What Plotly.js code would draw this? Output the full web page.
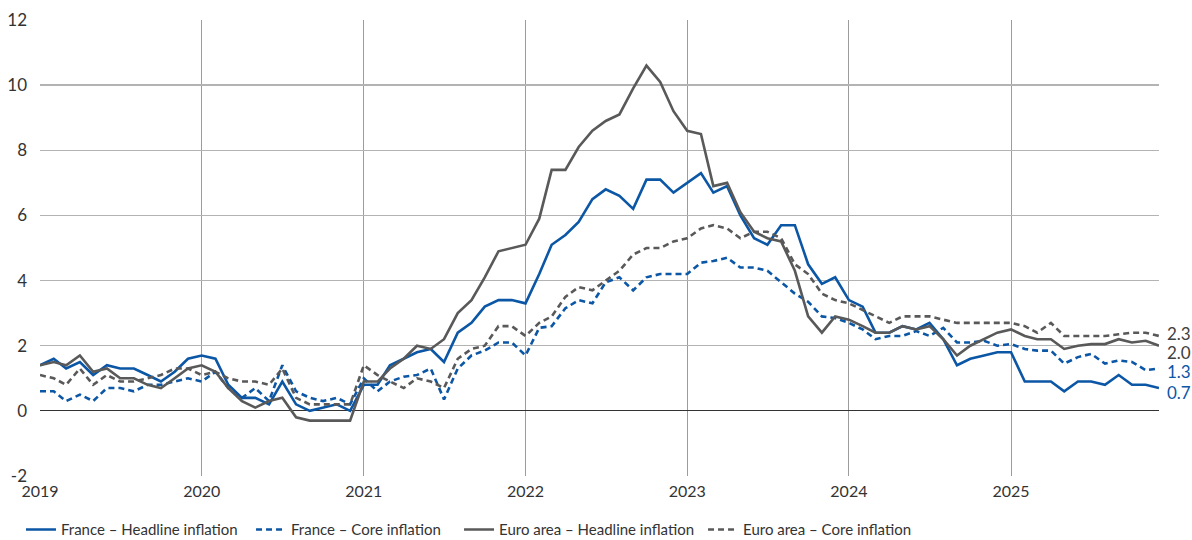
<!DOCTYPE html>
<html>
<head>
<meta charset="utf-8">
<script src="https://cdn.plot.ly/plotly-3.0.1.min.js"></script>
<style>html,body{margin:0;padding:0;background:#fff;}#chart{width:1192px;height:540px;}</style>
</head>
<body>
<div id="chart"></div>
<script>
// Monthly data, Jan 2019 - Dec 2025 (year-on-year %, HICP)
var years = [2019, 2020, 2021, 2022, 2023, 2024, 2025];
var yearLabels = ['2019', '2020', '2021', '2022', '2023', '2024', '2025'];
var yTickValues = [-2, 0, 2, 4, 6, 8, 10, 12];
var yTickLabels = ['-2', '0', '2', '4', '6', '8', '10', '12'];

var franceHeadline = [
  1.4, 1.6, 1.3, 1.5, 1.1, 1.4, 1.3, 1.3, 1.1, 0.9, 1.2, 1.6,
  1.7, 1.6, 0.8, 0.4, 0.4, 0.2, 0.9, 0.2, 0.0, 0.1, 0.2, 0.0,
  0.8, 0.8, 1.4, 1.6, 1.8, 1.9, 1.5, 2.4, 2.7, 3.2, 3.4, 3.4,
  3.3, 4.2, 5.1, 5.4, 5.8, 6.5, 6.8, 6.6, 6.2, 7.1, 7.1, 6.7,
  7.0, 7.3, 6.7, 6.9, 6.0, 5.3, 5.1, 5.7, 5.7, 4.5, 3.9, 4.1,
  3.4, 3.2, 2.4, 2.4, 2.6, 2.5, 2.7, 2.2, 1.4, 1.6, 1.7, 1.8,
  1.8, 0.9, 0.9, 0.9, 0.6, 0.9, 0.9, 0.8, 1.1, 0.8, 0.8, 0.7
];
var franceCore = [
  0.6, 0.6, 0.3, 0.5, 0.3, 0.7, 0.7, 0.6, 0.8, 0.8, 0.9, 1.0,
  0.9, 1.2, 0.7, 0.4, 0.7, 0.3, 1.4, 0.6, 0.4, 0.3, 0.4, 0.2,
  1.0, 0.6, 0.9, 1.05, 1.1, 1.3, 0.35, 1.3, 1.7, 1.85, 2.1, 2.1,
  1.7, 2.55, 2.6, 3.15, 3.4, 3.3, 3.95, 4.1, 3.7, 4.1, 4.2, 4.2,
  4.2, 4.55, 4.6, 4.7, 4.4, 4.4, 4.3, 3.95, 3.6, 3.35, 2.9, 2.85,
  2.7, 2.5, 2.2, 2.3, 2.3, 2.45, 2.3, 2.55, 2.1, 2.1, 2.15, 2.0,
  2.05, 1.9, 1.85, 1.85, 1.45, 1.65, 1.75, 1.45, 1.55, 1.5, 1.25, 1.3
];
var euroHeadline = [
  1.4, 1.5, 1.4, 1.7, 1.2, 1.3, 1.0, 1.0, 0.8, 0.7, 1.0, 1.3,
  1.4, 1.2, 0.7, 0.3, 0.1, 0.3, 0.4, -0.2, -0.3, -0.3, -0.3, -0.3,
  0.9, 0.9, 1.3, 1.6, 2.0, 1.9, 2.2, 3.0, 3.4, 4.1, 4.9, 5.0,
  5.1, 5.9, 7.4, 7.4, 8.1, 8.6, 8.9, 9.1, 9.9, 10.6, 10.1, 9.2,
  8.6, 8.5, 6.9, 7.0, 6.1, 5.5, 5.3, 5.2, 4.3, 2.9, 2.4, 2.9,
  2.8, 2.6, 2.4, 2.4, 2.6, 2.5, 2.6, 2.2, 1.7, 2.0, 2.2, 2.4,
  2.5, 2.3, 2.2, 2.2, 1.9, 2.0, 2.05, 2.05, 2.2, 2.1, 2.15, 2.0
];
var euroCore = [
  1.1, 1.0, 0.8, 1.3, 0.8, 1.1, 0.9, 0.9, 1.0, 1.1, 1.3, 1.3,
  1.1, 1.2, 1.0, 0.9, 0.9, 0.8, 1.3, 0.4, 0.2, 0.2, 0.2, 0.2,
  1.4, 1.1, 0.9, 0.7, 1.0, 0.9, 0.7, 1.6, 1.9, 2.0, 2.6, 2.6,
  2.3, 2.7, 2.9, 3.5, 3.8, 3.7, 4.0, 4.3, 4.8, 5.0, 5.0, 5.2,
  5.3, 5.6, 5.7, 5.6, 5.3, 5.5, 5.5, 5.3, 4.5, 4.2, 3.6, 3.4,
  3.3, 3.1, 2.9, 2.7, 2.9, 2.9, 2.9, 2.8, 2.7, 2.7, 2.7, 2.7,
  2.7, 2.6, 2.4, 2.7, 2.3, 2.3, 2.3, 2.3, 2.35, 2.4, 2.4, 2.3
];
var seriesNames = ['France \u2013 Headline inflation', 'France \u2013 Core inflation',
                   'Euro area \u2013 Headline inflation', 'Euro area \u2013 Core inflation'];
var endLabels = ['0.7', '1.3', '2.0', '2.3'];

// month dates
var months = [];
years.forEach(function (y) {
  for (var m = 1; m <= 12; m++) months.push(y + '-' + (m < 10 ? '0' + m : m) + '-01');
});
var tickVals = years.map(function (y) { return y + '-01-01'; });

var BLUE = '#0b56a5';
var GREY = '#595959';
var FONT = 'Lato, sans-serif';

var traces = [
  {x: months, y: franceHeadline, name: seriesNames[0], legend: 'legend', mode: 'lines', line: {color: BLUE, width: 2.6}},
  {x: months, y: franceCore, name: seriesNames[1], legend: 'legend2', mode: 'lines', line: {color: BLUE, width: 2.6, dash: '6px,4px'}},
  {x: months, y: euroHeadline, name: seriesNames[2], legend: 'legend3', mode: 'lines', line: {color: GREY, width: 2.6}},
  {x: months, y: euroCore, name: seriesNames[3], legend: 'legend4', mode: 'lines', line: {color: GREY, width: 2.6, dash: '6px,4px'}}
];

var last = months.length - 1;
var annotations = [
  {x: months[last], y: franceHeadline[last], text: endLabels[0], color: BLUE, shift: -4},
  {x: months[last], y: franceCore[last], text: endLabels[1], color: BLUE, shift: -3},
  {x: months[last], y: euroHeadline[last], text: endLabels[2], color: '#404040', shift: -7},
  {x: months[last], y: euroCore[last], text: endLabels[3], color: '#404040', shift: 2}
].map(function (a) {
  return {x: a.x, y: a.y, xref: 'x', yref: 'y', text: a.text, showarrow: false,
          xanchor: 'left', yanchor: 'middle', xshift: 6, yshift: a.shift,
          font: {family: FONT, size: 17, color: a.color}};
});

function legendAt(xFrac) {
  return {orientation: 'h', xref: 'container', yref: 'container',
          x: xFrac, xanchor: 'left', y: 0.019, yanchor: 'middle',
          font: {family: FONT, size: 15, color: '#333333'}, itemwidth: 30,
          bgcolor: 'rgba(0,0,0,0)'};
}

var layout = {
  width: 1192, height: 540,
  margin: {l: 40, r: 33, t: 20, b: 64},
  paper_bgcolor: '#ffffff', plot_bgcolor: '#ffffff',
  font: {family: FONT, size: 15, color: '#333333'},
  showlegend: true,
  legend: legendAt(0.0176),
  legend2: legendAt(0.2106),
  legend3: legendAt(0.3851),
  legend4: legendAt(0.5898),
  xaxis: {
    type: 'date', range: ['2019-01-01', '2025-12-01'],
    tickmode: 'array', tickvals: tickVals, ticktext: yearLabels,
    showgrid: true, gridcolor: '#9c9c9c', gridwidth: 1,
    zeroline: false, showline: false, ticks: '', ticklabelstandoff: 4,
    tickfont: {family: FONT, size: 16, color: '#333333'}
  },
  yaxis: {
    range: [-2, 12], tickmode: 'array', tickvals: yTickValues, ticktext: yTickLabels,
    showgrid: true, gridcolor: '#b3b3b3', gridwidth: 1.5,
    zeroline: true, zerolinecolor: '#333333', zerolinewidth: 1.2,
    showline: false, ticks: '', ticklabelstandoff: 12,
    tickfont: {family: FONT, size: 17, color: '#333333'}
  },
  annotations: annotations
};

Plotly.newPlot('chart', traces, layout, {displayModeBar: false, staticPlot: true});
</script>
</body>
</html>
